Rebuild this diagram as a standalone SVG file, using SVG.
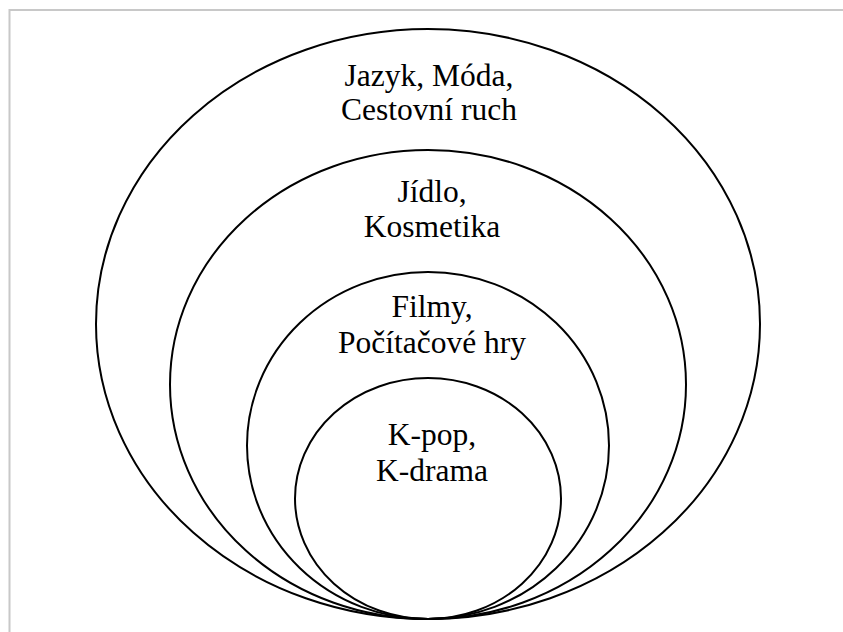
<svg xmlns="http://www.w3.org/2000/svg" width="843" height="632" viewBox="0 0 843 632">
<style>
.frame{fill:none;stroke:#c8c8c8;stroke-width:2}
.ring{fill:none;stroke:#000;stroke-width:2}
.lbl{font-family:"Liberation Serif","Times New Roman","DejaVu Serif",serif;font-size:31.5px;fill:#000;text-anchor:middle}
</style>
<rect x="0" y="0" width="843" height="632" fill="#fff"/>
<path class="frame" d="M9.5 632 V10 H843"/>
<g id="ring-outer"><ellipse class="ring" cx="428" cy="324" rx="332" ry="295"/>
<text class="lbl" x="429" y="86">Jazyk, Móda,</text>
<text class="lbl" x="429" y="120">Cestovní ruch</text></g>
<g id="ring-2"><ellipse class="ring" cx="428" cy="384.5" rx="258" ry="234.5"/>
<text class="lbl" x="432" y="202">Jídlo,</text>
<text class="lbl" x="432" y="237">Kosmetika</text></g>
<g id="ring-3"><ellipse class="ring" cx="428" cy="445.5" rx="181" ry="173.5"/>
<text class="lbl" x="432" y="317">Filmy,</text>
<text class="lbl" x="432" y="353">Počítačové hry</text></g>
<g id="ring-inner"><ellipse class="ring" cx="428" cy="498.5" rx="133" ry="120.5"/>
<text class="lbl" x="432" y="445">K-pop,</text>
<text class="lbl" x="432" y="481">K-drama</text></g>
<g id="connectors"></g>
</svg>
